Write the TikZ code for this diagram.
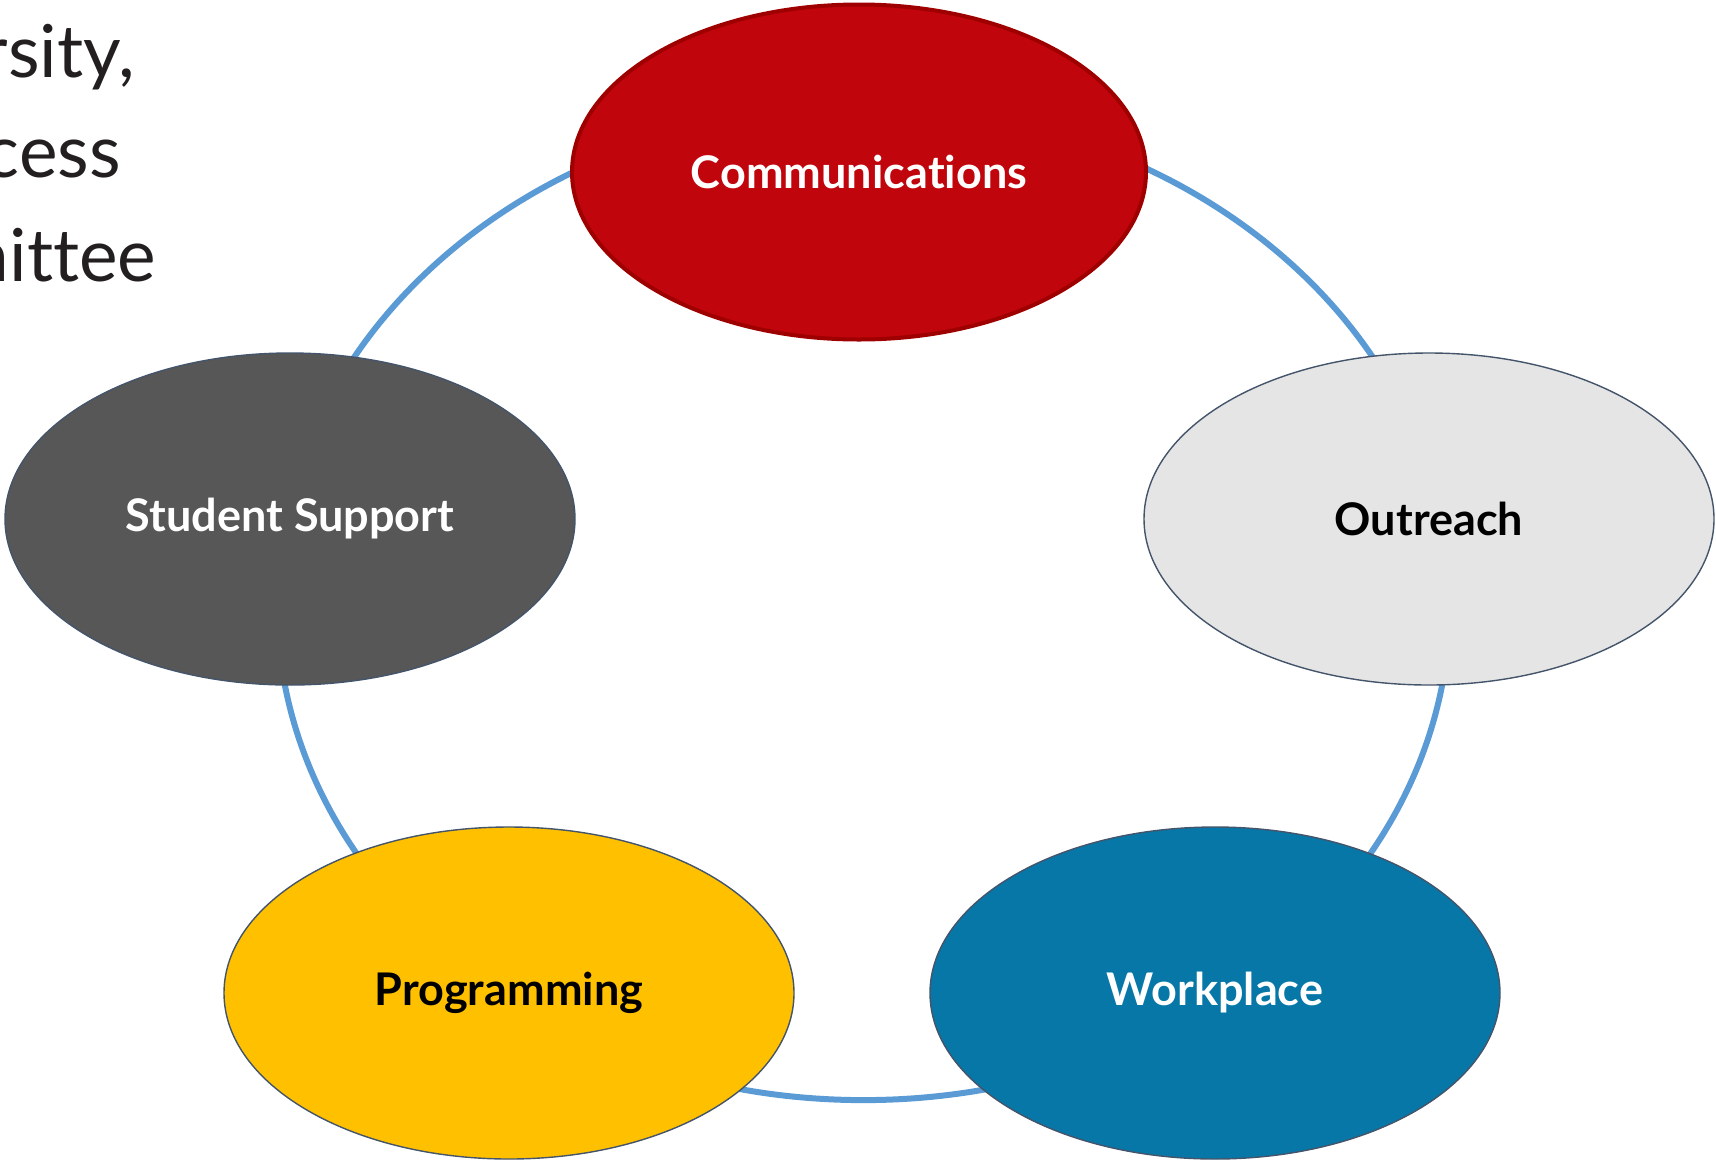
\documentclass[tikz,border=0pt]{standalone}
\usepackage{fontspec}
\setmainfont[Ligatures=NoCommon]{Lato}
\usetikzlibrary{shapes.geometric}
\definecolor{commred}{RGB}{193,5,12}
\definecolor{commborder}{RGB}{158,0,0}
\definecolor{darkgrayfill}{RGB}{87,87,87}
\definecolor{lightgrayfill}{RGB}{229,229,229}
\definecolor{yellowfill}{RGB}{255,192,0}
\definecolor{bluefill}{RGB}{7,119,168}
\definecolor{ringblue}{RGB}{91,155,213}
\definecolor{outline}{RGB}{68,84,106}
\definecolor{bodytext}{RGB}{35,31,32}
\tikzset{
  bubble/.style={ellipse, minimum width=570pt, minimum height=332pt, inner sep=0pt,
    draw=outline, line width=1.4pt, font=\fontsize{45}{54}\selectfont\bfseries},
  ringstyle/.style={ellipse, draw=ringblue, line width=6pt, minimum width=1173pt,
    minimum height=993pt, inner sep=0pt},
  sidetext/.style={anchor=base east, inner sep=0pt, text=bodytext,
    font=\fontsize{73}{80}\selectfont}
}
\begin{document}
\begin{tikzpicture}[x=1pt,y=-1pt]
\useasboundingbox (0,0) rectangle (1716,1160);
\node[ringstyle] (ring) at (863.5,603.6) {};
\node[sidetext] (ltxt1) at (135,77) {rsity,};
\node[sidetext] (ltxt2) at (121,177) {cess};
\node[sidetext] (ltxt3) at (156.5,281) {nittee};
\node[bubble, fill=commred, draw=commborder, line width=4pt, text=white,
  minimum width=574pt, minimum height=335pt] (comm) at (859,172) {Communications};
\node[bubble, fill=lightgrayfill, text=black] (outr) at (1429,519) {Outreach};
\node[bubble, fill=darkgrayfill, text=white] (stud) at (290,519) {Student Support};
\node[bubble, fill=yellowfill, text=black] (prog) at (509,993) {Programming};
\node[bubble, fill=bluefill, text=white] (work) at (1215,993) {Workplace};
\end{tikzpicture}
\end{document}
